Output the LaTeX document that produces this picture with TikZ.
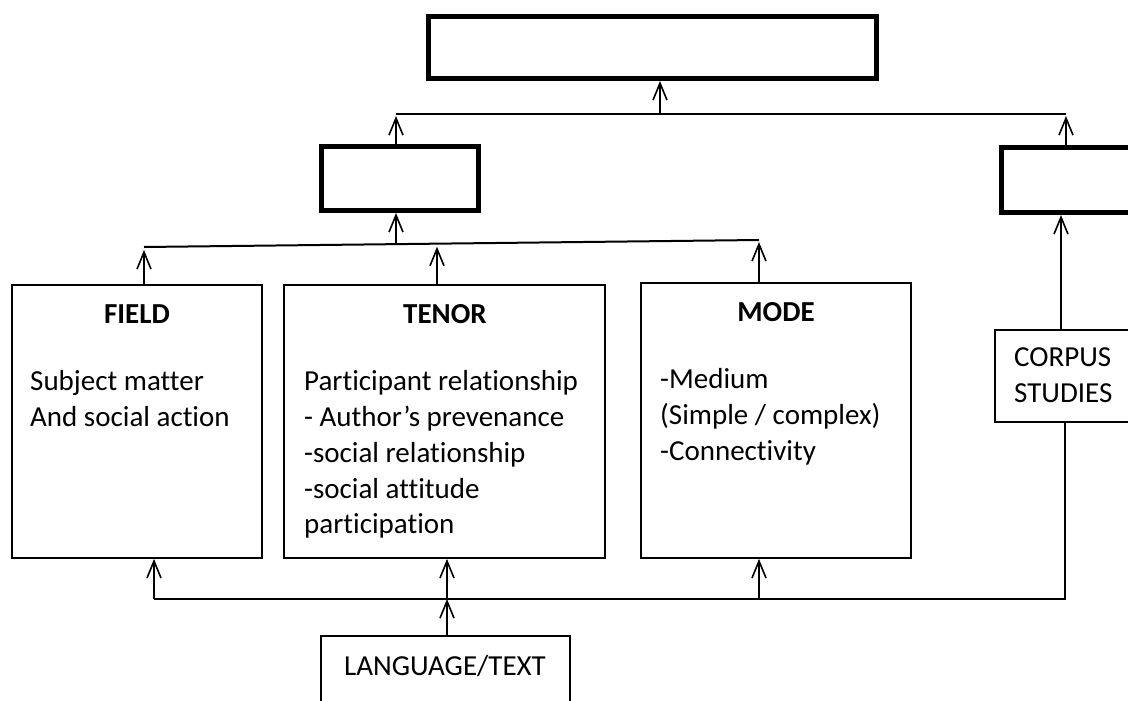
\documentclass[tikz,border=0pt]{standalone}
\usepackage{fontspec}
\setmainfont{Carlito}[Ligatures=NoCommon]
\usetikzlibrary{arrows.meta}
\begin{document}
\begin{tikzpicture}[x=1pt,y=-1pt,
  thickbox/.style={draw, line width=5pt, inner sep=0pt},
  thinbox/.style={draw, line width=1.8pt, inner sep=0pt},
  conn/.style={line width=2pt},
  arr/.style={conn, -{Straight Barb[length=17pt,width=14pt,line width=1.6pt]}},
  txt/.style={font=\fontsize{29}{35.7}\selectfont, inner sep=0pt, anchor=base west},
  ctxt/.style={font=\fontsize{29}{35.7}\selectfont, inner sep=0pt, anchor=base},
  ttl/.style={font=\bfseries\fontsize{29}{35.7}\selectfont, inner sep=0pt, anchor=base}]
\useasboundingbox (0,0) rectangle (1128,701);
\clip (0,0) rectangle (1128,701);

% boxes
\node[thickbox, minimum width=448pt, minimum height=62pt] (top) at (652.5,47.5) {};
\node[thickbox, minimum width=157pt, minimum height=64pt] (mid) at (400,178.5) {};
\node[thickbox, minimum width=140pt, minimum height=65pt] (right) at (1071.5,180) {};
\node[thinbox, minimum width=250pt, minimum height=273pt] (field) at (137,421.5) {};
\node[thinbox, minimum width=321pt, minimum height=273pt] (tenor) at (444.5,421.5) {};
\node[thinbox, minimum width=270pt, minimum height=275pt] (mode) at (776,420.5) {};
\node[thinbox, minimum width=144pt, minimum height=92pt] (corpus) at (1067,376) {};
\node[thinbox, minimum width=249pt, minimum height=83pt] (lang) at (445.5,677.5) {};

% upper connectors
\coordinate (a1) at (396,114);
\coordinate (a2) at (1066,114);
\coordinate (a3) at (660,114);
\draw[conn] (a1) -- (a2);
\draw[arr] (a3) -- (a3 |- top.south);
\draw[arr, shorten >=2pt] (a1 |- mid.north) -- (a1);
\draw[arr, shorten >=2pt] (a2 |- right.north) -- (a2);

% slanted line
\coordinate (b1) at (144,247);
\coordinate (b2) at (759,240);
\coordinate (b3) at (396,244.1);
\coordinate (b4) at (437,243.7);
\draw[conn] (b1) -- (b2);
\draw[arr] (b3) -- (b3 |- mid.south);
\draw[arr, shorten >=3pt] (b1 |- field.north) -- (b1);
\draw[arr, shorten >=3pt] (b4 |- tenor.north) -- (b4);
\draw[arr, shorten >=2pt] (b2 |- mode.north) -- (b2);

% corpus
\coordinate (cv) at (1061,300);
\draw[arr] (cv |- corpus.north) -- (cv |- right.south);

% bottom connectors
\coordinate (d0) at (1065,599);
\coordinate (d1) at (154,599);
\coordinate (d2) at (447,599);
\coordinate (d3) at (759,599);
\draw[conn] (d0 |- corpus.south) -- (d0) -- (d1);
\draw[arr] (d1) -- (d1 |- field.south);
\draw[arr] (d2) -- (d2 |- tenor.south);
\draw[arr] (d3) -- (d3 |- mode.south);
\draw[arr] (d2 |- lang.north) -- (d2);

% texts
\node[ttl] (tf) at (137,323) {FIELD};
\node[ttl] (tt) at (445,323) {TENOR};
\node[ttl] (tm) at (776,321) {MODE};

\node[txt] (f1) at (30,390) {Subject matter};
\node[txt] (f2) at (30,426) {And social action};

\node[txt] (t1) at (304,390) {Participant relationship};
\node[txt] (t2) at (304,426) {- Author’s prevenance};
\node[txt] (t3) at (304,462) {-social relationship};
\node[txt] (t4) at (304,498) {-social attitude};
\node[txt] (t5) at (304,533) {participation};

\node[txt] (m1) at (660,388) {-Medium};
\node[txt] (m2) at (660,424) {(Simple / complex)};
\node[txt] (m3) at (660,460) {-Connectivity};

\node[txt] (c1) at (1014,366) {CORPUS};
\node[txt] (c2) at (1014,402) {STUDIES};

\node[ctxt] (l1) at (445,675) {LANGUAGE/TEXT};
\end{tikzpicture}
\end{document}
